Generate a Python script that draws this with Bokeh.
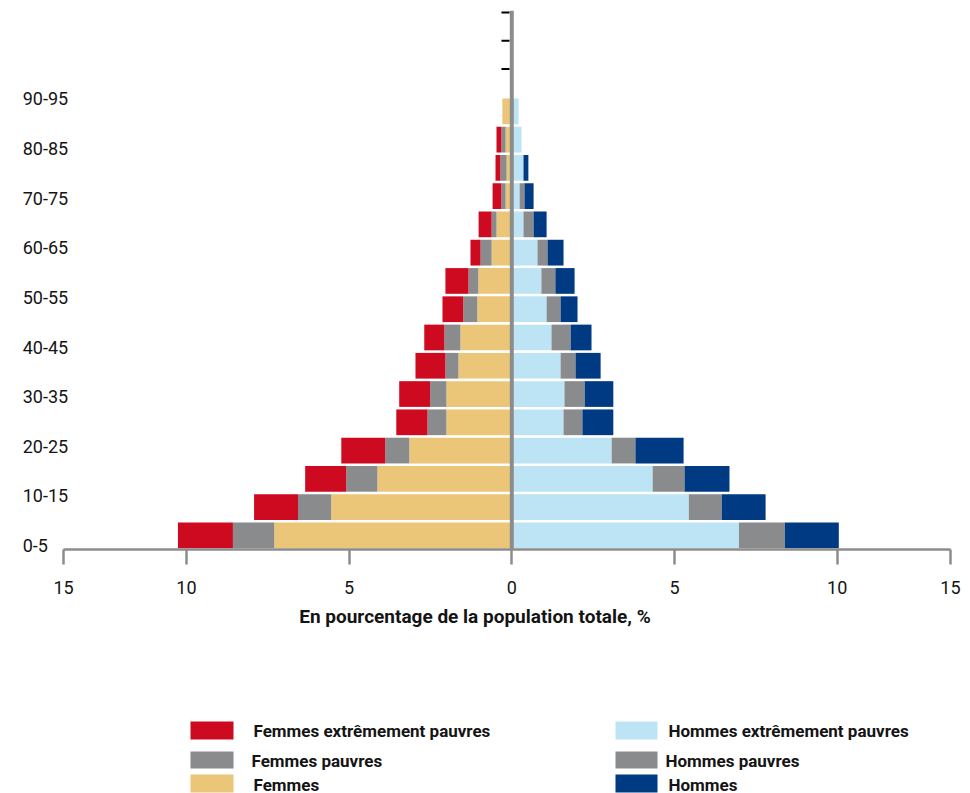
import numpy as np
from bokeh.plotting import figure
from bokeh.models import ColumnDataSource, Range1d, FixedTicker, CustomJSTickFormatter
from bokeh.layouts import column
from bokeh.core.properties import value
from bokeh.embed import file_html
from bokeh.resources import INLINE

FONT = "Roboto"

# ---- data (rows from bottom 0-5 upward, 5-year steps) ----
age_labels = ["0-5", "10-15", "20-25", "30-35", "40-45", "50-55", "60-65", "70-75", "80-85", "90-95"]

# female side, from the centre outward
femmes = [7.30, 5.55, 4.13, 3.15, 2.01, 2.01, 1.64, 1.58, 1.06, 1.03, 0.62, 0.47, 0.19, 0.16, 0.19, 0.29]
femmes_pauvres = [1.27, 1.02, 0.96, 0.74, 0.58, 0.50, 0.40, 0.49, 0.43, 0.30, 0.34, 0.15, 0.13, 0.19, 0.13, 0.0]
femmes_extr = [1.69, 1.35, 1.26, 1.35, 0.96, 0.95, 0.92, 0.62, 0.64, 0.71, 0.31, 0.40, 0.27, 0.15, 0.15, 0.0]

# male side, from the centre outward
hommes_extr = [6.98, 5.44, 4.33, 3.07, 1.59, 1.62, 1.50, 1.22, 1.07, 0.91, 0.79, 0.36, 0.24, 0.36, 0.30, 0.21]
hommes_pauvres = [1.41, 1.01, 0.98, 0.73, 0.58, 0.62, 0.46, 0.59, 0.43, 0.43, 0.31, 0.31, 0.15, 0.0, 0.0, 0.0]
hommes = [1.66, 1.35, 1.38, 1.48, 0.95, 0.88, 0.77, 0.64, 0.52, 0.59, 0.49, 0.40, 0.28, 0.15, 0.0, 0.0]

x_tick_values = [-13.777, -10, -5, 0, 5, 10, 13.482]

legend_left = ["Femmes extrêmement pauvres", "Femmes pauvres", "Femmes"]
legend_right = ["Hommes extrêmement pauvres", "Hommes pauvres", "Hommes"]
x_title = "En pourcentage de la population totale, %"

C_RED = "#CE0A21"
C_GRAY = "#8A8B8D"
C_YEL = "#ECC678"
C_LB = "#BDE4F5"
C_NAVY = "#003A82"
C_AXIS = "#8C8C8C"
C_TXT = "#141414"

# ---- main figure (frame extends below the x axis, axis drawn at y = 0) ----
p = figure(width=970, height=690, x_range=Range1d(-15.713, 14.097), y_range=Range1d(-2.865, 19.067),
           output_backend="svg", toolbar_location=None, y_axis_location=None,
           min_border_left=0, min_border_right=0, min_border_top=10, min_border_bottom=60)
p.outline_line_color = None
p.xgrid.visible = False
p.ygrid.visible = False

rows = np.arange(len(femmes)) + 0.5
f1 = np.array(femmes)
f2 = f1 + np.array(femmes_pauvres)
f3 = f2 + np.array(femmes_extr)
m1 = np.array(hommes_extr)
m2 = m1 + np.array(hommes_pauvres)
m3 = m2 + np.array(hommes)

src = ColumnDataSource(dict(y=rows, f1=-f1, f2=-f2, f3=-f3, m1=m1, m2=m2, m3=m3, z=np.zeros(len(rows))))
H = 0.91
p.hbar(y="y", left="f1", right="z", height=H, source=src, fill_color=C_YEL, line_color=None)
p.hbar(y="y", left="f2", right="f1", height=H, source=src, fill_color=C_GRAY, line_color=None)
p.hbar(y="y", left="f3", right="f2", height=H, source=src, fill_color=C_RED, line_color=None)
p.hbar(y="y", left="z", right="m1", height=H, source=src, fill_color=C_LB, line_color=None)
p.hbar(y="y", left="m1", right="m2", height=H, source=src, fill_color=C_GRAY, line_color=None)
p.hbar(y="y", left="m2", right="m3", height=H, source=src, fill_color=C_NAVY, line_color=None)

# central vertical axis with top ticks
p.segment(x0=[0], y0=[0], x1=[0], y1=[19.067], line_color=C_AXIS, line_width=4)
p.segment(x0=[-0.317] * 3, x1=[-0.07] * 3, y0=[17, 18, 19], y1=[17, 18, 19], line_color="black", line_width=2)

# age labels
label_pos = 0.14 + 1.7556 * np.arange(len(age_labels))
p.text(x=[-15.03] * len(age_labels), y=label_pos, text=age_labels, text_font=value(FONT),
       text_font_size="18px", text_align="left", text_baseline="middle", text_color=C_TXT)

# x-axis title
p.text(x=[-1.131], y=[-2.37], text=[x_title], text_font=value(FONT), text_font_style="bold",
       text_font_size="19px", text_align="center", text_baseline="middle", text_color=C_TXT)

ax = p.xaxis[0]
ax.fixed_location = 0
ax.bounds = (x_tick_values[0], x_tick_values[-1])
ax.ticker = FixedTicker(ticks=x_tick_values)
ax.formatter = CustomJSTickFormatter(code="return Math.abs(tick) > 12 ? '15' : Math.abs(tick).toFixed(0);")
ax.axis_line_color = C_AXIS
ax.axis_line_width = 2.5
ax.major_tick_line_color = C_AXIS
ax.major_tick_line_width = 2.5
ax.major_tick_out = 15
ax.major_tick_in = 0
ax.minor_tick_line_color = None
ax.major_label_text_font = FONT
ax.major_label_text_font_size = "18px"
ax.major_label_text_color = C_TXT
ax.major_label_standoff = 16

# ---- legend figure (coordinates = page pixels) ----
q = figure(width=970, height=103, x_range=Range1d(0, 970), y_range=Range1d(793, 690),
           output_backend="svg", toolbar_location=None, x_axis_location=None, y_axis_location=None,
           min_border_left=0, min_border_right=0, min_border_top=0, min_border_bottom=0)
q.outline_line_color = None
q.xgrid.visible = False
q.ygrid.visible = False

sw_top = [721, 751, 774]
sw_bot = [739, 768, 792]
txt_y = [730, 760, 784]
q.quad(left=[190] * 3, right=[233] * 3, top=sw_top, bottom=sw_bot,
       fill_color=[C_RED, C_GRAY, C_YEL], line_color=None)
q.quad(left=[615] * 3, right=[657] * 3, top=sw_top, bottom=sw_bot,
       fill_color=[C_LB, C_GRAY, C_NAVY], line_color=None)
q.text(x=[253, 251, 253], y=txt_y, text=legend_left, text_font=value(FONT), text_font_style="bold",
       text_font_size="17px", text_align="left", text_baseline="middle", text_color=C_TXT)
q.text(x=[668, 665, 668], y=txt_y, text=legend_right, text_font=value(FONT), text_font_style="bold",
       text_font_size="17px", text_align="left", text_baseline="middle", text_color=C_TXT)

layout = column(p, q, spacing=0)
open("out.html", "w").write(file_html(layout, INLINE))
